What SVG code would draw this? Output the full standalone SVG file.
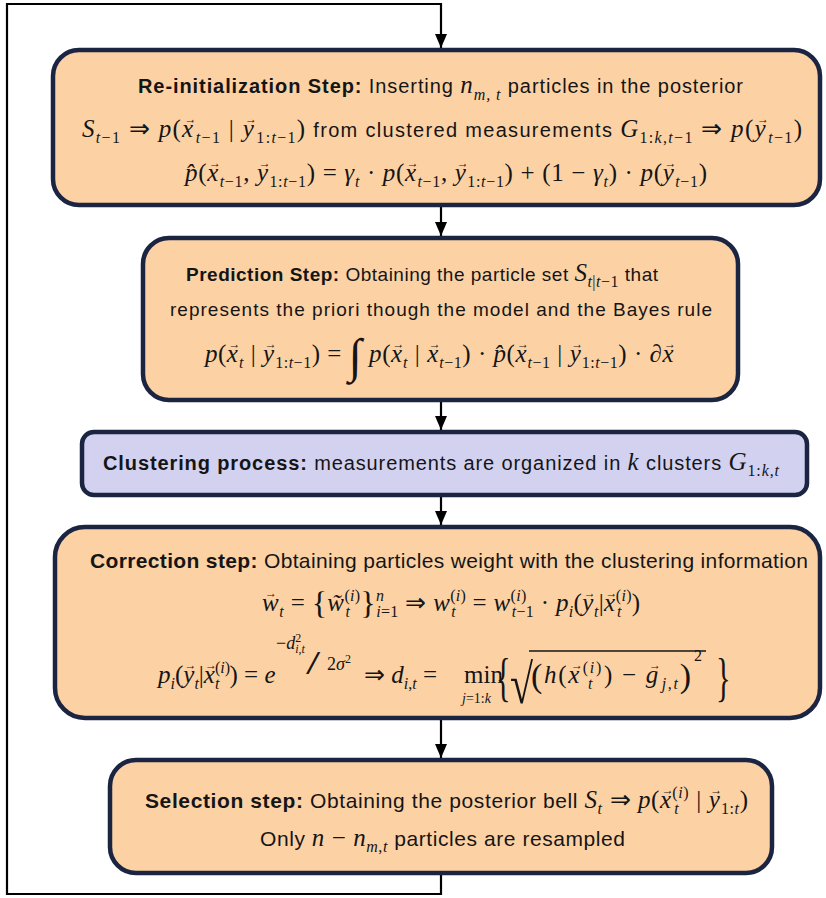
<svg xmlns="http://www.w3.org/2000/svg" width="826" height="898" viewBox="0 0 826 898">
<defs>
<style>
.box{fill:#fcd2a5;stroke:#1b2441;stroke-width:4.5}
.lav{fill:#d3d1f0}
.con{fill:none;stroke:#000;stroke-width:2.2}
.sn{font-family:"Liberation Sans",Arial,Helvetica,sans-serif;font-size:20px;fill:#151515}
.bd{font-weight:bold}
.mi{font-family:"Liberation Serif","Times New Roman",Times,serif;font-style:italic;font-size:25px;fill:#151515}
.up{font-style:normal}
.sb{font-size:16px}
.va{font-family:"Liberation Serif","DejaVu Serif",serif;font-style:normal;font-size:12px}
</style>
<marker id="ah" viewBox="0 0 14 12" refX="14" refY="6" markerWidth="14" markerHeight="12" markerUnits="userSpaceOnUse" orient="auto"><path d="M0,0 L14,6 L0,12 z" fill="#000"/></marker>
</defs>
<rect width="826" height="898" fill="#fff"/>
<g id="connectors">
<path class="con" d="M441,873 V894 H7 V4 H441 V48" marker-end="url(#ah)"/>
<path class="con" d="M441,207 V236" marker-end="url(#ah)"/>
<path class="con" d="M441,402 V430" marker-end="url(#ah)"/>
<path class="con" d="M441,497 V525" marker-end="url(#ah)"/>
<path class="con" d="M441,720 V758" marker-end="url(#ah)"/>
</g>
<g id="reinit">
<rect class="box" x="53" y="50" width="767" height="155" rx="26"/>
<text class="sn" x="138" y="93" textLength="605" lengthAdjust="spacing"><tspan class="bd">Re-initialization Step:</tspan> Inserting <tspan class="mi">n<tspan class="sb" dy="7">m, t</tspan></tspan><tspan dy="-7"> particles in the posterior</tspan></text>
<text class="sn" x="82" y="137" textLength="720" lengthAdjust="spacing"><tspan class="mi">S<tspan class="sb" dy="6">t<tspan class="up">−1</tspan></tspan><tspan class="up" dy="-6"> ⇒ </tspan>p<tspan class="up">(</tspan>x<tspan class="va" dx="-10" dy="-14">→</tspan><tspan class="sb" dx="-2" dy="20">t<tspan class="up">−1</tspan></tspan><tspan class="up" dy="-6"> | </tspan>y<tspan class="va" dx="-10" dy="-14">→</tspan><tspan class="sb" dx="-2" dy="20"><tspan class="up">1:</tspan>t<tspan class="up">−1</tspan></tspan><tspan class="up" dy="-6">)</tspan></tspan> from clustered measurements <tspan class="mi">G<tspan class="sb" dy="6"><tspan class="up">1:</tspan>k<tspan class="up">,</tspan>t<tspan class="up">−1</tspan></tspan><tspan class="up" dy="-6"> ⇒ </tspan>p<tspan class="up">(</tspan>y<tspan class="va" dx="-10" dy="-14">→</tspan><tspan class="sb" dx="-2" dy="20">t<tspan class="up">−1</tspan></tspan><tspan class="up" dy="-6">)</tspan></tspan></text>
<text class="mi" x="185" y="181" textLength="522" lengthAdjust="spacing">p&#x302;<tspan class="up">(</tspan>x<tspan class="va" dx="-10" dy="-14">→</tspan><tspan class="sb" dx="-2" dy="20">t<tspan class="up">−1</tspan></tspan><tspan class="up" dy="-6">, </tspan>y<tspan class="va" dx="-10" dy="-14">→</tspan><tspan class="sb" dx="-2" dy="20"><tspan class="up">1:</tspan>t<tspan class="up">−1</tspan></tspan><tspan class="up" dy="-6">) = </tspan>γ<tspan class="sb" dy="6">t</tspan><tspan class="up" dy="-6"> · </tspan>p<tspan class="up">(</tspan>x<tspan class="va" dx="-10" dy="-14">→</tspan><tspan class="sb" dx="-2" dy="20">t<tspan class="up">−1</tspan></tspan><tspan class="up" dy="-6">, </tspan>y<tspan class="va" dx="-10" dy="-14">→</tspan><tspan class="sb" dx="-2" dy="20"><tspan class="up">1:</tspan>t<tspan class="up">−1</tspan></tspan><tspan class="up" dy="-6">) + (1 − </tspan>γ<tspan class="sb" dy="6">t</tspan><tspan class="up" dy="-6">) · </tspan>p<tspan class="up">(</tspan>y<tspan class="va" dx="-10" dy="-14">→</tspan><tspan class="sb" dx="-2" dy="20">t<tspan class="up">−1</tspan></tspan><tspan class="up" dy="-6">)</tspan></text>
</g>
<g id="prediction">
<rect class="box" x="143" y="238" width="595" height="162" rx="26"/>
<text class="sn" style="font-size:19px" x="186" y="281" textLength="472" lengthAdjust="spacing"><tspan class="bd">Prediction Step:</tspan> Obtaining the particle set <tspan class="mi">S<tspan class="sb" dy="6">t<tspan class="up">|</tspan>t<tspan class="up">−1</tspan></tspan></tspan><tspan dy="-6"> that</tspan></text>
<text class="sn" style="font-size:19px" x="170" y="316" textLength="542" lengthAdjust="spacing">represents the priori though the model and the Bayes rule</text>
<text class="mi" x="205" y="362" textLength="471" lengthAdjust="spacing">p<tspan class="up">(</tspan>x<tspan class="va" dx="-10" dy="-14">→</tspan><tspan class="sb" dx="-2" dy="20">t</tspan><tspan class="up" dy="-6"> | </tspan>y<tspan class="va" dx="-10" dy="-14">→</tspan><tspan class="sb" dx="-2" dy="20"><tspan class="up">1:</tspan>t<tspan class="up">−1</tspan></tspan><tspan class="up" dy="-6">) = </tspan><tspan class="up" style="font-size:48px" dy="10">∫</tspan><tspan dy="-10"> </tspan>p<tspan class="up">(</tspan>x<tspan class="va" dx="-10" dy="-14">→</tspan><tspan class="sb" dx="-2" dy="20">t</tspan><tspan class="up" dy="-6"> | </tspan>x<tspan class="va" dx="-10" dy="-14">→</tspan><tspan class="sb" dx="-2" dy="20">t<tspan class="up">−1</tspan></tspan><tspan class="up" dy="-6">) · </tspan>p&#x302;<tspan class="up">(</tspan>x<tspan class="va" dx="-10" dy="-14">→</tspan><tspan class="sb" dx="-2" dy="20">t<tspan class="up">−1</tspan></tspan><tspan class="up" dy="-6"> | </tspan>y<tspan class="va" dx="-10" dy="-14">→</tspan><tspan class="sb" dx="-2" dy="20"><tspan class="up">1:</tspan>t<tspan class="up">−1</tspan></tspan><tspan class="up" dy="-6">) · ∂</tspan>x<tspan class="va" dx="-10" dy="-14">→</tspan></text>
</g>
<g id="clustering">
<rect class="box lav" x="82" y="432" width="725" height="63" rx="12"/>
<text class="sn" x="103" y="470" textLength="676" lengthAdjust="spacing"><tspan class="bd">Clustering process:</tspan> measurements are organized in <tspan class="mi">k</tspan> clusters <tspan class="mi">G<tspan class="sb" dy="6"><tspan class="up">1:</tspan>k<tspan class="up">,</tspan>t</tspan></tspan></text>
</g>
<g id="correction">
<rect class="box" x="55" y="527" width="765" height="191" rx="30"/>
<text class="sn" style="font-size:21px" x="90" y="568" textLength="718" lengthAdjust="spacing"><tspan class="bd">Correction step:</tspan> Obtaining particles weight with the clustering information</text>
<text class="mi" x="262" y="611" textLength="378" lengthAdjust="spacing">w<tspan class="va" dx="-14" dy="-14">→</tspan><tspan class="sb" dx="2" dy="20">t</tspan><tspan class="up" dy="-6"> = </tspan><tspan class="up" style="font-size:32px" dy="3">{</tspan><tspan dy="-3">w&#x303;</tspan><tspan class="sb" dy="-10"><tspan class="up">(</tspan>i<tspan class="up">)</tspan></tspan><tspan class="sb" dx="-15" dy="16">t</tspan><tspan class="up" style="font-size:32px" dx="10" dy="-3">}</tspan><tspan class="sb" dy="-13">n</tspan><tspan class="sb" dx="-8" dy="16">i<tspan class="up">=1</tspan></tspan><tspan class="up" dy="-6"> ⇒ </tspan>w<tspan class="sb" dy="-10"><tspan class="up">(</tspan>i<tspan class="up">)</tspan></tspan><tspan class="sb" dx="-15" dy="16">t</tspan><tspan class="up" dx="10" dy="-6"> = </tspan>w<tspan class="sb" dy="-10"><tspan class="up">(</tspan>i<tspan class="up">)</tspan></tspan><tspan class="sb" dx="-15" dy="16">t<tspan class="up">−1</tspan></tspan><tspan class="up" dy="-6"> · </tspan>p<tspan class="sb" dy="6">i</tspan><tspan class="up" dy="-6">(</tspan>y<tspan class="va" dx="-10" dy="-14">→</tspan><tspan class="sb" dx="-2" dy="20">t</tspan><tspan class="up" dy="-6">|</tspan>x<tspan class="va" dx="-10" dy="-14">→</tspan><tspan class="sb" dx="-2" dy="4"><tspan class="up">(</tspan>i<tspan class="up">)</tspan></tspan><tspan class="sb" dx="-15" dy="16">t</tspan><tspan class="up" dx="10" dy="-6">)</tspan></text>
<text class="mi" x="158" y="683">p<tspan class="sb" dy="6">i</tspan><tspan class="up" dy="-6">(</tspan>y<tspan class="va" dx="-10" dy="-14">→</tspan><tspan class="sb" dx="-2" dy="20">t</tspan><tspan class="up" dy="-6">|</tspan>x<tspan class="va" dx="-10" dy="-14">→</tspan><tspan class="sb" dx="-2" dy="4"><tspan class="up">(</tspan>i<tspan class="up">)</tspan></tspan><tspan class="sb" dx="-15" dy="16">t</tspan><tspan class="up" dx="10" dy="-6">) = </tspan>e</text>
<text class="mi" style="font-size:18px" x="276" y="649"><tspan class="up">−</tspan>d<tspan class="up" style="font-size:12px" dy="-7">2</tspan><tspan style="font-size:12px" dx="-6" dy="11">i<tspan class="up">,</tspan>t</tspan></text>
<text class="mi up" transform="translate(306,674) scale(1.6,1.05)" style="font-size:32px">/</text>
<text class="mi up" style="font-size:18px" x="327" y="670">2<tspan style="font-style:italic">σ</tspan><tspan style="font-size:12px" dy="-7">2</tspan></text>
<text class="mi" x="364" y="683"><tspan class="up">⇒ </tspan>d<tspan class="sb" dy="6">i<tspan class="up">,</tspan>t</tspan><tspan class="up" dy="-6">  =</tspan></text>
<text class="mi up" x="464" y="683">min</text>
<text class="mi" style="font-size:14px" x="462" y="703">j<tspan class="up">=1:</tspan>k</text>
<text class="mi up" transform="translate(496,695) scale(0.8,1.4)" style="font-size:38px">{</text>
<text class="mi up" transform="translate(510,703) scale(0.75,1)" style="font-size:56px">√</text>
<path d="M529,651 H706" stroke="#151515" stroke-width="1.5" fill="none"/>
<text class="mi" x="531" y="683" textLength="160" lengthAdjust="spacing"><tspan class="up" style="font-size:34px" dy="4">(</tspan><tspan dy="-4">h</tspan><tspan class="up">(</tspan>x<tspan class="va" dx="-10" dy="-14">→</tspan><tspan class="sb" dx="-2" dy="4"><tspan class="up">(</tspan>i<tspan class="up">)</tspan></tspan><tspan class="sb" dx="-15" dy="16">t</tspan><tspan class="up" dx="10" dy="-6">) − </tspan>g<tspan class="va" dx="-11" dy="-14">→</tspan><tspan class="sb" dx="-1" dy="20">j<tspan class="up">,</tspan>t</tspan><tspan class="up" style="font-size:34px" dy="-2">)</tspan></text>
<text class="mi up" style="font-size:16px" x="694" y="661">2</text>
<text class="mi up" transform="translate(716,695) scale(0.8,1.4)" style="font-size:38px">}</text>
</g>
<g id="selection">
<rect class="box" x="110" y="760" width="662" height="113" rx="26"/>
<text class="sn" style="font-size:21px" x="145" y="808" textLength="603" lengthAdjust="spacing"><tspan class="bd">Selection step:</tspan> Obtaining the posterior bell <tspan class="mi">S<tspan class="sb" dy="6">t</tspan><tspan class="up" dy="-6"> ⇒ </tspan>p<tspan class="up">(</tspan>x<tspan class="va" dx="-10" dy="-14">→</tspan><tspan class="sb" dx="-2" dy="4"><tspan class="up">(</tspan>i<tspan class="up">)</tspan></tspan><tspan class="sb" dx="-15" dy="16">t</tspan><tspan class="up" dx="10" dy="-6"> | </tspan>y<tspan class="va" dx="-10" dy="-14">→</tspan><tspan class="sb" dx="-2" dy="20"><tspan class="up">1:</tspan>t</tspan><tspan class="up" dy="-6">)</tspan></tspan></text>
<text class="sn" style="font-size:21px" x="260" y="846" textLength="365" lengthAdjust="spacing">Only <tspan class="mi">n<tspan class="up"> − </tspan>n<tspan class="sb" dy="6">m<tspan class="up">,</tspan>t</tspan></tspan><tspan dy="-6"> particles are resampled</tspan></text>
</g>
</svg>
